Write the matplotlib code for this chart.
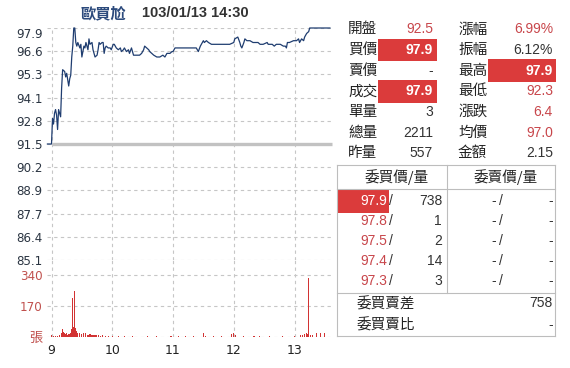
import matplotlib
matplotlib.use('Agg')
import matplotlib.pyplot as plt
from matplotlib.patches import Rectangle
from matplotlib.lines import Line2D
import numpy as np

# ---------------- data ----------------
stock_name = '歐買尬'
stamp = '103/01/13 14:30'
ref_price = 91.5
price_range = (85.1, 97.9)

# minutes after 09:00
price_times = [-4, 0, 1, 2, 3, 4, 5, 6, 7, 8, 9, 10, 11, 13, 14, 15, 17, 18, 19, 20,
               21, 22, 23, 24, 25, 26, 28, 29, 30, 32, 33, 34, 35, 36, 37, 38, 40, 41, 42, 43,
               45, 46, 47, 48, 50, 51, 52, 53, 54, 56, 58, 59, 61, 62, 64, 66, 68, 69, 71, 72,
               74, 76, 77, 79, 80, 81, 84, 87, 89, 91, 92, 94, 96, 97, 99, 101, 104, 107, 110, 112,
               114, 115, 117, 119, 120, 122, 127, 133, 140, 143, 145, 147, 148, 150, 151, 153, 155, 158, 163, 170,
               176, 180, 181, 184, 186, 187, 188, 190, 191, 193, 196, 199, 203, 204, 206, 209, 213, 214, 218, 220,
               222, 226, 229, 231, 232, 233, 235, 239, 242, 244, 245, 247, 249, 250, 252, 254, 255, 275]
price_values = [91.5, 91.5, 92.9, 92.6, 93.2, 93.4, 93.1, 92.3, 93.4, 93.2, 93.0, 94.6, 95.6, 95.5, 95.2, 95.4, 94.7, 95.1, 95.3, 96.3,
                96.9, 97.9, 97.9, 97.1, 96.9, 97.1, 96.8, 97.0, 96.3, 96.9, 96.8, 97.1, 96.9, 96.7, 97.3, 97.0, 97.1, 96.7, 96.5, 96.3,
                96.4, 96.7, 97.1, 97.0, 97.1, 97.1, 96.5, 96.8, 96.9, 96.8, 96.8, 96.7, 97.0, 97.0, 96.8, 96.7, 96.8, 96.6, 96.7, 96.8,
                96.6, 96.7, 96.5, 96.8, 96.6, 96.4, 96.4, 96.4, 96.5, 96.7, 96.9, 96.8, 96.7, 96.6, 96.5, 96.4, 96.3, 96.3, 96.4, 96.3,
                96.5, 96.5, 96.5, 96.6, 96.6, 96.8, 96.8, 96.8, 96.8, 96.8, 96.6, 96.9, 97.0, 97.2, 97.1, 97.2, 97.1, 97.0, 97.0, 97.0,
                97.0, 97.1, 97.3, 97.4, 97.1, 96.9, 96.8, 97.1, 97.3, 97.2, 97.2, 97.1, 97.1, 97.1, 97.0, 97.0, 97.1, 97.0, 97.0, 96.9,
                97.0, 97.0, 96.9, 96.9, 96.8, 97.1, 97.1, 97.2, 97.2, 97.3, 97.1, 97.3, 97.2, 97.4, 97.6, 97.7, 97.9, 97.9]

vol_times = [0, 2, 4, 6, 8, 10, 11, 12, 13, 14, 15, 16, 17, 18, 19, 20, 21, 22, 23, 24,
             25, 26, 28, 30, 32, 34, 36, 38, 40, 42, 44, 46, 48, 50, 53, 56, 60, 66, 72, 80,
             95, 104, 118, 125, 132, 140, 150, 152, 160, 168, 178, 180, 182, 190, 200, 205, 215, 228, 240, 246,
             248, 250, 252, 253, 254, 256, 258, 262, 266, 270]
vol_values = [8, 5, 6, 4, 10, 18, 43, 25, 18, 15, 20, 12, 15, 14, 20, 45, 217, 55, 253, 50,
              30, 20, 18, 15, 20, 18, 12, 15, 10, 12, 8, 10, 6, 8, 5, 4, 5, 3, 2, 2,
              3, 6, 4, 3, 5, 3, 22, 3, 4, 3, 15, 20, 12, 4, 3, 3, 4, 3, 4, 10,
              12, 15, 20, 15, 328, 12, 8, 18, 20, 20]
vol_ticks = [0, 170, 340]
vol_tick_labels = ['張', '170', '340']
hour_labels = ['9', '10', '11', '12', '13']

left_labels = ['開盤', '買價', '賣價', '成交', '單量', '總量', '昨量']
left_values = ['92.5', '97.9', '-', '97.9', '3', '2211', '557']
right_labels = ['漲幅', '振幅', '最高', '最低', '漲跌', '均價', '金額']
right_values = ['6.99%', '6.12%', '97.9', '92.3', '6.4', '97.0', '2.15']

bid_prices = ['97.9', '97.8', '97.5', '97.4', '97.3']
bid_vols = [738, 1, 2, 14, 3]
ask_prices = ['-', '-', '-', '-', '-']
ask_vols = ['-', '-', '-', '-', '-']
book_headers = ['委買價/量', '委賣價/量']
diff_label, diff_value = '委買賣差', '758'
ratio_label, ratio_value = '委買賣比', '-'

# ---------------- style ----------------
left_kind = ['red', 'box', 'dark', 'box', 'dark', 'dark', 'dark']
right_kind = ['red', 'dark', 'box', 'red', 'red', 'red', 'dark']

NAVY = '#2c4a7c'
LINE = '#1f3d70'
RED_T = '#c8464b'
RED_BOX = '#db3b3b'
DARK = '#333333'
LAB = '#222222'
GRID = '#c6c6c6'
AXT = '#2b3542'
CJK = ['Noto Sans CJK TC', 'DejaVu Sans']
LAT = ['Liberation Sans', 'Noto Sans CJK TC']

W, H = 570, 368
fig = plt.figure(figsize=(W / 100, H / 100), dpi=100)
fig.patch.set_facecolor('white')


def fx(x):
    return x / W


def fy(y):
    return 1 - y / H


px_per_min = (294.5 - 51.5) / 240.0
ax_l, ax_r = 47.0, 333.0
t_lo = (ax_l - 51.5) / px_per_min
t_hi = (ax_r - 51.5) / px_per_min

ax_p = fig.add_axes([fx(ax_l), fy(260), (ax_r - ax_l) / W, (260 - 28) / H])
ax_v = fig.add_axes([fx(ax_l), fy(336.7), (ax_r - ax_l) / W, (336.7 - 260) / H])

hour_ticks = [60 * i for i in range(len(hour_labels))]
for ax in (ax_p, ax_v):
    ax.set_xlim(t_lo, t_hi)
    for s in ax.spines.values():
        s.set_visible(False)
    ax.set_xticks(hour_ticks)
    ax.grid(True, color=GRID, linestyle=(0, (3, 3)), linewidth=0.8)
    ax.set_axisbelow(True)
    ax.tick_params(length=0)
    ax.set_facecolor('none')

# price axis
ax_p.set_ylim(*price_range)
pt = np.linspace(price_range[0], price_range[1], 11)
ax_p.set_yticks(pt)
ax_p.set_yticklabels([f'{v:.1f}' for v in pt], color=AXT, fontsize=8.6, family='DejaVu Sans')
ax_p.tick_params(axis='y', pad=3)
ax_p.set_xticklabels([])
ax_p.get_yticklabels()[-1].set_va('top')

ax_p.hlines(ref_price, 0, t_hi - 1, color='#c2c2c2', linewidth=2.4, zorder=2)
ax_p.plot(price_times, price_values, color=LINE, linewidth=0.9, zorder=3, clip_on=False)

# volume axis
ax_v.set_ylim(0, 425)
ax_v.bar(vol_times, vol_values, width=1.1, color='#d23333', linewidth=0, zorder=3)
ax_v.set_yticks(vol_ticks)
ax_v.set_yticklabels(vol_tick_labels, color='#c0504d', fontsize=8.6, family='DejaVu Sans')
ax_v.get_yticklabels()[0].set_family(CJK)
ax_v.get_yticklabels()[0].set_fontsize(9.5)
ax_v.tick_params(axis='y', pad=3)
ax_v.set_xticklabels(hour_labels, color='#222222', fontsize=9, family='DejaVu Sans')
ax_v.tick_params(axis='x', pad=5)

# title
fig.text(fx(103), fy(13), stock_name, ha='center', va='center', fontsize=11, fontweight='bold',
         color=NAVY, family=CJK)
fig.text(fx(142), fy(13), stamp, ha='left', va='center', fontsize=10.5, fontweight='bold',
         color=DARK, family=LAT)

# quote table
row_y0, row_dy = 29.3, 20.67


def put_value(xr, y, txt, kind, box_x):
    if kind == 'box':
        fig.patches.append(Rectangle((fx(box_x[0]), fy(y + 11.3)), (box_x[1] - box_x[0]) / W, 22.6 / H,
                                     transform=fig.transFigure, facecolor=RED_BOX, edgecolor='none', zorder=1))
        col, wt = 'white', 'bold'
    elif kind == 'red':
        col, wt = RED_T, 'normal'
    else:
        col, wt = DARK, 'normal'
    fig.text(fx(xr), fy(y), txt, ha='right', va='center', fontsize=10, color=col, fontweight=wt,
             family=LAT, zorder=2)


for i in range(len(left_labels)):
    y = row_y0 + row_dy * i
    fig.text(fx(348), fy(y), left_labels[i], ha='left', va='center', fontsize=10.5, color=LAB, family=CJK)
    put_value(433, y, left_values[i], left_kind[i], (378, 437))
    fig.text(fx(458), fy(y), right_labels[i], ha='left', va='center', fontsize=10.5, color=LAB, family=CJK)
    put_value(553, y, right_values[i], right_kind[i], (488, 556))

# order book box
BOX = '#bdbdbd'


def hline(x0, x1, y):
    fig.lines.append(Line2D([fx(x0), fx(x1)], [fy(y), fy(y)], transform=fig.transFigure, color=BOX, lw=0.8))


def vline(x, y0, y1):
    fig.lines.append(Line2D([fx(x), fx(x)], [fy(y0), fy(y1)], transform=fig.transFigure, color=BOX, lw=0.8))


hline(337, 555, 165)
hline(337, 555, 189)
hline(337, 555, 293)
hline(337, 555, 336)
vline(337, 165, 336)
vline(555, 165, 336)
vline(447, 165, 293)

fig.text(fx(397), fy(177), book_headers[0], ha='center', va='center', fontsize=10.5, color=LAB, family=CJK)
fig.text(fx(506), fy(177), book_headers[1], ha='center', va='center', fontsize=10.5, color=LAB, family=CJK)

for i in range(len(bid_prices)):
    y = 201 + 20 * i
    if i == 0:
        fig.patches.append(Rectangle((fx(337), fy(213)), (389 - 337) / W, 24 / H, transform=fig.transFigure,
                                     facecolor=RED_BOX, edgecolor='none', zorder=1))
        col = 'white'
    else:
        col = RED_T
    fig.text(fx(387.5), fy(y), bid_prices[i], ha='right', va='center', fontsize=10, color=col, family=LAT, zorder=2)
    fig.text(fx(389), fy(y), '/', ha='left', va='center', fontsize=10, color=DARK, family=LAT, zorder=2)
    fig.text(fx(442), fy(y), str(bid_vols[i]), ha='right', va='center', fontsize=10, color=DARK, family=LAT)
    fig.text(fx(496), fy(y), ask_prices[i], ha='right', va='center', fontsize=10, color=DARK, family=LAT)
    fig.text(fx(499), fy(y), '/', ha='left', va='center', fontsize=10, color=DARK, family=LAT)
    fig.text(fx(553), fy(y), ask_vols[i], ha='right', va='center', fontsize=10, color=DARK, family=LAT)

fig.text(fx(357), fy(304), diff_label, ha='left', va='center', fontsize=10.5, color=LAB, family=CJK)
fig.text(fx(553), fy(303), diff_value, ha='right', va='center', fontsize=10, color=DARK, family=LAT)
fig.text(fx(357), fy(325), ratio_label, ha='left', va='center', fontsize=10.5, color=LAB, family=CJK)
fig.text(fx(553), fy(325), ratio_value, ha='right', va='center', fontsize=10, color=DARK, family=LAT)

fig.savefig('out.png', dpi=100, facecolor='white')
